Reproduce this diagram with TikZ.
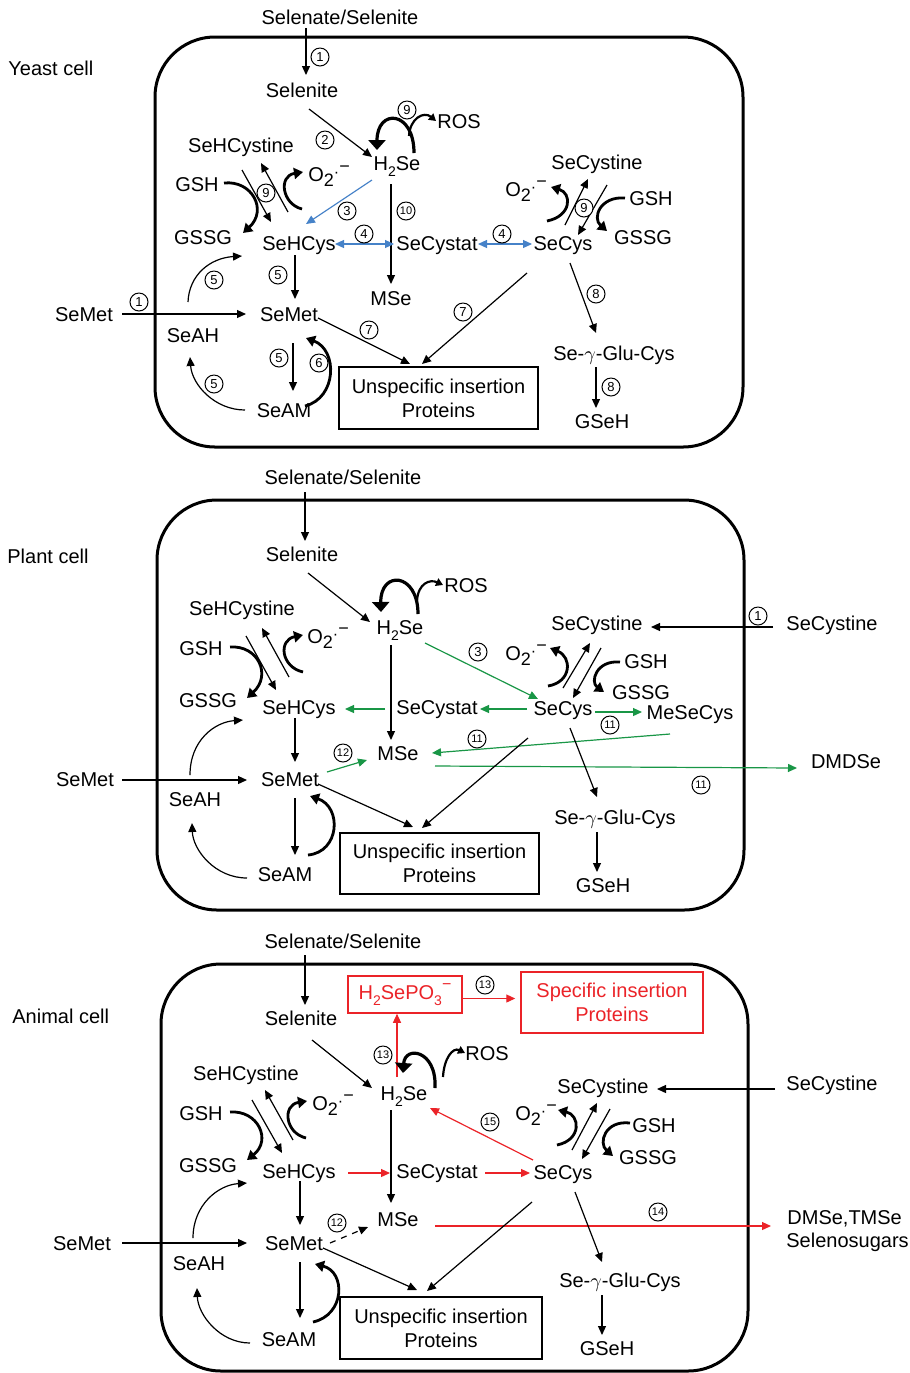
\documentclass[tikz,border=0pt]{standalone}
\usepackage{fontspec}
\setmainfont{Liberation Sans}
\usetikzlibrary{arrows.meta}
\definecolor{cblue}{RGB}{70,130,200}
\definecolor{cgreen}{RGB}{25,150,70}
\definecolor{cred}{RGB}{235,35,40}
\newcommand\Otwo{O\raisebox{-0.28em}{\fontsize{9}{9}\selectfont 2}\raisebox{0.2em}{\fontsize{8}{8}\selectfont ·}\raisebox{0.45em}{\fontsize{9}{9}\selectfont −}}
\newcommand\HtwoSe{H\raisebox{-0.3em}{\fontsize{7}{7}\selectfont 2}Se}
\newcommand\HSePO{H\raisebox{-0.3em}{\fontsize{7}{7}\selectfont 2}SePO\raisebox{-0.3em}{\fontsize{7}{7}\selectfont 3}\raisebox{0.5em}{\fontsize{8}{8}\selectfont −}}
\tikzset{
  t/.style={inner sep=0pt, text height=7.2pt, text depth=0pt, font=\fontsize{10}{12}\selectfont},
  tw/.style={t, anchor=west},
  num/.style={circle, draw, line width=0.5pt, inner sep=0pt, minimum size=9pt, font=\fontsize{6.5}{6.5}\selectfont},
  numw/.style={num, font=\fontsize{5.5}{5.5}\selectfont},
  ar/.style={line width=0.6pt, -{Triangle[length=4.5pt,width=4pt]}},
  dar/.style={line width=0.6pt, {Triangle[length=4.5pt,width=4pt]}-{Triangle[length=4.5pt,width=4pt]}},
  thk/.style={line width=1.4pt, -{Triangle[length=4.5pt,width=5.5pt]}},
  mid/.style={line width=1.1pt, -{Triangle[length=3.5pt,width=4pt]}},
  big/.style={line width=1.6pt, -{Triangle[length=5pt,width=8.5pt]}},
  cell/.style={draw, line width=1.5pt, rounded corners=30pt},
  pbox/.style={draw, line width=0.65pt, align=center, inner sep=0pt, font=\fontsize{10}{12}\selectfont},
}
\begin{document}
\begin{tikzpicture}[x=0.5pt,y=-0.5pt]
\useasboundingbox (0,0) rectangle (910,1373);

%%%%%%%%%%%%%%%%%%%% YEAST %%%%%%%%%%%%%%%%%%%%
\node[tw] (yc) at (8,68) {Yeast cell};
\draw[cell] (155,37) rectangle (743,447);
\node[t] (ss1) at (340,17) {Selenate/Selenite};
\node[t] (sel1) at (302,90) {Selenite};
\node[t] (h1) at (397,163) {\HtwoSe};
\node[t] (ros1) at (459,121) {ROS};
\node[t] (shc1) at (241,145) {SeHCystine};
\node[tw] (oa1) at (308,174) {\Otwo};
\node[t] (gsh1) at (197,184) {GSH};
\node[t] (gssg1) at (203,237) {GSSG};
\node[t] (shcys1) at (299,243) {SeHCys};
\node[t] (scst1) at (437,243) {SeCystat};
\node[t] (scys1) at (563,243) {SeCys};
\node[t] (sci1) at (597,162) {SeCystine};
\node[tw] (ob1) at (505,189) {\Otwo};
\node[t] (gshb1) at (651,198) {GSH};
\node[t] (gssgb1) at (643,237) {GSSG};
\node[t] (mse1) at (391,298) {MSe};
\node[t] (smo1) at (84,314) {SeMet};
\node[t] (sm1) at (289,314) {SeMet};
\node[t] (sah1) at (193,335) {SeAH};
\node[t] (sam1) at (284,410) {SeAM};
\node[pbox, minimum width=99.5pt, minimum height=31pt] (un1) at (438.5,398) {Unspecific insertion\\Proteins};
\node[t] (glu1) at (614,353) {Se-$\gamma$-Glu-Cys};
\node[t] (gs1) at (602,421) {GSeH};

\draw[ar] ([shift={(-34,11)}]ss1.center) -- ([shift={(4,-15)}]sel1.center);
\node[num] (n1a) at (320,57) {1};
\draw[ar] ([shift={(7,19)}]sel1.center) -- ([shift={(-25,-6)}]h1.center);
\node[num] (n1b) at (325,140) {2};
\draw[big] ([shift={(17,-10)}]h1.center) .. controls ([shift={(17,-53)}]h1.center) and ([shift={(-20,-55)}]h1.center) .. ([shift={(-20,-13)}]h1.center);
\draw[mid] ([shift={(12,-27)}]h1.center) .. controls ([shift={(13,-45)}]h1.center) and ([shift={(27,-52)}]h1.center) .. ([shift={(-23,0)}]ros1.center);
\node[num, fill=white] (n1c) at (407,110) {9};
\draw[ar] ([shift={(1,25)}]shc1.center) -- ([shift={(-28,-21)}]shcys1.center);
\draw[ar] ([shift={(-11,-31)}]shcys1.center) -- ([shift={(20,18)}]shc1.center);
\draw[thk] ([shift={(27,-1)}]gsh1.center) .. controls ([shift={(55,-4)}]gsh1.center) and ([shift={(71,26)}]gsh1.center) .. ([shift={(40,-4)}]gssg1.center);
\draw[thk] ([shift={(-6,35)}]oa1.west) .. controls ([shift={(-26,30)}]oa1.west) and ([shift={(-30,2)}]oa1.west) .. ([shift={(-5,-2)}]oa1.west);
\node[num, fill=white] (n1d) at (266,193) {9};
\draw[ar, cblue] ([shift={(-25,17)}]h1.center) -- ([shift={(7,-19)}]shcys1.center);
\node[num] (n1e) at (347,211) {3};
\draw[ar] ([shift={(-6,21)}]h1.center) -- ([shift={(0,-14)}]mse1.center);
\node[numw] (n1f) at (406,211) {10};
\draw[dar, cblue] ([shift={(36,1)}]shcys1.center) -- ([shift={(-43,1)}]scst1.center);
\node[num] (n1g) at (364,234) {4};
\draw[dar, cblue] ([shift={(41,1)}]scst1.center) -- ([shift={(-31,1)}]scys1.center);
\node[num] (n1h) at (502,234) {4};
\draw[ar] ([shift={(2,-18)}]scys1.center) -- ([shift={(-9,17)}]sci1.center);
\draw[ar] ([shift={(10,23)}]sci1.center) -- ([shift={(15,-8)}]scys1.center);
\draw[thk] ([shift={(42,32)}]ob1.west) .. controls ([shift={(67,27)}]ob1.west) and ([shift={(67,4)}]ob1.west) .. ([shift={(46,-2)}]ob1.west);
\draw[thk] ([shift={(-26,0)}]gshb1.center) .. controls ([shift={(-51,-2)}]gshb1.center) and ([shift={(-59,20)}]gshb1.center) .. ([shift={(-36,-6)}]gssgb1.center);
\node[num, fill=white] (n1i) at (584,208) {9};
\draw[ar] ([shift={(38,0)}]smo1.center) -- ([shift={(-43,0)}]sm1.center);
\node[num] (n1j) at (139,302) {1};
\draw[ar] ([shift={(-5,-33)}]sah1.center) .. controls ([shift={(-4,-60)}]sah1.center) and ([shift={(17,-77)}]sah1.center) .. ([shift={(-57,13)}]shcys1.center);
\node[num] (n1k) at (214,280) {5};
\draw[ar] ([shift={(-4,12)}]shcys1.center) -- ([shift={(6,-15)}]sm1.center);
\node[num] (n1l) at (278,275) {5};
\draw[ar] ([shift={(4,29)}]sm1.center) -- ([shift={(9,-19)}]sam1.center);
\node[num] (n1m) at (279,358) {5};
\draw[thk] ([shift={(21,-4)}]sam1.center) .. controls ([shift={(53,-12)}]sam1.center) and ([shift={(49,36)}]sm1.center) .. ([shift={(17,24)}]sm1.center);
\node[num] (n1n) at (319,363) {6};
\draw[ar] ([shift={(-39,0)}]sam1.center) .. controls ([shift={(-69,0)}]sam1.center) and ([shift={(-1,50)}]sah1.center) .. ([shift={(-3,22)}]sah1.center);
\node[num] (n1o) at (214,384) {5};
\draw[ar] ([shift={(29,4)}]sm1.center) -- ([shift={(-28.5,-34)}]un1.center);
\node[num] (n1p) at (369,330) {7};
\draw[ar] ([shift={(-36,30)}]scys1.center) -- ([shift={(-16.5,-34)}]un1.center);
\node[num] (n1q) at (463,312) {7};
\draw[ar] ([shift={(7,20)}]scys1.center) -- ([shift={(-18,-20)}]glu1.center);
\node[num] (n1r) at (596,294) {8};
\draw[ar] ([shift={(-18,14)}]glu1.center) -- ([shift={(-6,-13)}]gs1.center);
\node[num] (n1s) at (611,387) {8};

%%%%%%%%%%%%%%%%%%%% PLANT %%%%%%%%%%%%%%%%%%%%
\node[tw] (pc) at (7,556) {Plant cell};
\draw[cell] (157,500) rectangle (744,910);
\node[t] (ss2) at (343,477) {Selenate/Selenite};
\node[t] (sel2) at (302,554) {Selenite};
\node[t] (h2) at (400,627) {\HtwoSe};
\node[t] (ros2) at (466,585) {ROS};
\node[t] (shc2) at (242,608) {SeHCystine};
\node[tw] (oa2) at (307,636) {\Otwo};
\node[t] (gsh2) at (201,648) {GSH};
\node[t] (gssg2) at (208,700) {GSSG};
\node[t] (shcys2) at (299,707) {SeHCys};
\node[t] (scst2) at (437,707) {SeCystat};
\node[t] (scys2) at (563,708) {SeCys};
\node[t] (sci2) at (597,623) {SeCystine};
\node[t] (scio2) at (832,623) {SeCystine};
\node[tw] (ob2) at (505,653) {\Otwo};
\node[t] (gshb2) at (646,661) {GSH};
\node[t] (gssgb2) at (641,692) {GSSG};
\node[t] (mesc2) at (690,712) {MeSeCys};
\node[t] (mse2) at (398,753) {MSe};
\node[t] (dmd2) at (846,761) {DMDSe};
\node[t] (smo2) at (85,779) {SeMet};
\node[t] (sm2) at (290,779) {SeMet};
\node[t] (sah2) at (195,799) {SeAH};
\node[t] (sam2) at (285,874) {SeAM};
\node[pbox, minimum width=99.5pt, minimum height=30.5pt] (un2) at (439.5,863.5) {Unspecific insertion\\Proteins};
\node[t] (glu2) at (615,817) {Se-$\gamma$-Glu-Cys};
\node[t] (gs2) at (603,885) {GSeH};

\draw[ar] ([shift={(-38,15)}]ss2.center) -- ([shift={(3,-13)}]sel2.center);
\draw[ar] ([shift={(6,19)}]sel2.center) -- ([shift={(-30,-5)}]h2.center);
\draw[big] ([shift={(18,-13)}]h2.center) .. controls ([shift={(18,-55)}]h2.center) and ([shift={(-20,-57)}]h2.center) .. ([shift={(-19,-15)}]h2.center);
\draw[mid] ([shift={(17,-26)}]h2.center) .. controls ([shift={(18,-44)}]h2.center) and ([shift={(30,-48)}]h2.center) .. ([shift={(-23,0)}]ros2.center);
\draw[ar] ([shift={(4,28)}]shc2.center) -- ([shift={(-23,-17)}]shcys2.center);
\draw[ar] ([shift={(-10,-30)}]shcys2.center) -- ([shift={(20,20)}]shc2.center);
\draw[thk] ([shift={(29,-1)}]gsh2.center) .. controls ([shift={(57,-3)}]gsh2.center) and ([shift={(71,27)}]gsh2.center) .. ([shift={(39,-2)}]gssg2.center);
\draw[thk] ([shift={(-4,36)}]oa2.west) .. controls ([shift={(-26,31)}]oa2.west) and ([shift={(-29,4)}]oa2.west) .. ([shift={(-4,-1)}]oa2.west);
\draw[ar, cgreen] ([shift={(-52,2)}]scst2.center) -- ([shift={(46,2)}]shcys2.center);
\draw[ar, cgreen] ([shift={(-36,1)}]scys2.center) -- ([shift={(43,2)}]scst2.center);
\draw[ar, cgreen] ([shift={(25,16)}]h2.center) -- ([shift={(-25,-9)}]scys2.center);
\node[num] (n2a) at (478,652) {3};
\draw[ar] ([shift={(-9,18)}]h2.center) -- ([shift={(-7,-13)}]mse2.center);
\draw[ar] ([shift={(-59,4)}]scio2.center) -- ([shift={(54,4)}]sci2.center);
\node[num] (n2b) at (758,616) {1};
\draw[ar] ([shift={(0,-20)}]scys2.center) -- ([shift={(-7,20)}]sci2.center);
\draw[ar] ([shift={(4,25)}]sci2.center) -- ([shift={(10,-10)}]scys2.center);
\draw[thk] ([shift={(43,33)}]ob2.west) .. controls ([shift={(67,29)}]ob2.west) and ([shift={(67,4)}]ob2.west) .. ([shift={(45,-5)}]ob2.west);
\draw[thk] ([shift={(-26,1)}]gshb2.center) .. controls ([shift={(-50,-1)}]gshb2.center) and ([shift={(-56,21)}]gshb2.center) .. ([shift={(-37,0)}]gssgb2.center);
\draw[ar, cgreen] ([shift={(32,4)}]scys2.center) -- ([shift={(-48,0)}]mesc2.center);
\node[numw] (n2c) at (610,725) {11};
\draw[ar, cgreen] ([shift={(-20,22)}]mesc2.center) -- ([shift={(34,0)}]mse2.center);
\node[numw] (n2d) at (477,739) {11};
\draw[ar, cgreen] ([shift={(37,13)}]mse2.center) -- ([shift={(-49,7)}]dmd2.center);
\node[numw] (n2e) at (701,785) {11};
\draw[ar] ([shift={(37,1)}]smo2.center) -- ([shift={(-43,1)}]sm2.center);
\draw[ar] ([shift={(-5,-24)}]sah2.center) .. controls ([shift={(-5,-59)}]sah2.center) and ([shift={(20,-77)}]sah2.center) .. ([shift={(-56,13)}]shcys2.center);
\draw[ar] ([shift={(-4,11)}]shcys2.center) -- ([shift={(5,-17)}]sm2.center);
\draw[ar, cgreen] ([shift={(37,-7)}]sm2.center) -- ([shift={(-31,7)}]mse2.center);
\node[numw] (n2f) at (343,753) {12};
\draw[ar] ([shift={(5,19)}]sm2.center) -- ([shift={(10,-19)}]sam2.center);
\draw[thk] ([shift={(23,-19)}]sam2.center) .. controls ([shift={(55,-22)}]sam2.center) and ([shift={(52,28)}]sm2.center) .. ([shift={(20,17)}]sm2.center);
\draw[ar] ([shift={(-38,4)}]sam2.center) .. controls ([shift={(-70,4)}]sam2.center) and ([shift={(-2,51)}]sah2.center) .. ([shift={(-3,24)}]sah2.center);
\draw[ar] ([shift={(28,5)}]sm2.center) -- ([shift={(-26.5,-36.5)}]un2.center);
\draw[ar] ([shift={(-35,30)}]scys2.center) -- ([shift={(-17.5,-35.5)}]un2.center);
\draw[ar] ([shift={(7,20)}]scys2.center) -- ([shift={(-18,-20)}]glu2.center);
\draw[ar] ([shift={(-18,15)}]glu2.center) -- ([shift={(-6,-13)}]gs2.center);

%%%%%%%%%%%%%%%%%%%% ANIMAL %%%%%%%%%%%%%%%%%%%%
\node[tw] (ac) at (12,1016) {Animal cell};
\draw[cell] (161,964) rectangle (748,1371);
\node[t] (ss3) at (343,941) {Selenate/Selenite};
\node[t] (sel3) at (301,1018) {Selenite};
\node[draw=cred, text=cred, line width=0.75pt, minimum width=57pt, minimum height=18.5pt, inner sep=0pt, font=\fontsize{10}{12}\selectfont] (hp3) at (405,994.5) {\HSePO};
\node[pbox, draw=cred, text=cred, line width=0.75pt, minimum width=91pt, minimum height=30.5pt] (sp3) at (612,1002.5) {Specific insertion\\Proteins};
\node[t] (h3) at (404,1093) {\HtwoSe};
\node[t] (ros3) at (487,1053) {ROS};
\node[t] (shc3) at (246,1073) {SeHCystine};
\node[tw] (oa3) at (312,1103) {\Otwo};
\node[t] (gsh3) at (201,1113) {GSH};
\node[t] (gssg3) at (208,1165) {GSSG};
\node[t] (shcys3) at (299,1171) {SeHCys};
\node[t] (scst3) at (437,1171) {SeCystat};
\node[t] (scys3) at (563,1172) {SeCys};
\node[t] (sci3) at (603,1086) {SeCystine};
\node[t] (scio3) at (832,1083) {SeCystine};
\node[tw] (ob3) at (515,1113) {\Otwo};
\node[t] (gshb3) at (654,1125) {GSH};
\node[t] (gssgb3) at (648,1157) {GSSG};
\node[t] (mse3) at (398,1219) {MSe};
\node[tw] (dm3) at (787,1217) {DMSe,TMSe};
\node[tw] (sug3) at (786,1240) {Selenosugars};
\node[t] (smo3) at (82,1243) {SeMet};
\node[t] (sm3) at (294,1243) {SeMet};
\node[t] (sah3) at (199,1263) {SeAH};
\node[t] (sam3) at (289,1339) {SeAM};
\node[pbox, minimum width=101pt, minimum height=31pt] (un3) at (441,1328) {Unspecific insertion\\Proteins};
\node[t] (glu3) at (620,1280) {Se-$\gamma$-Glu-Cys};
\node[t] (gs3) at (607,1348) {GSeH};

\draw[ar] ([shift={(-38,14)}]ss3.center) -- ([shift={(4,-13)}]sel3.center);
\draw[ar] ([shift={(11,22)}]sel3.center) -- ([shift={(-32,-5)}]h3.center);
\draw[ar, cred] ([shift={(-7,-16)}]h3.center) -- ([shift={(-8,0)}]hp3.south);
\node[numw] (n3a) at (383,1055) {13};
\draw[ar, cred] ([shift={(0,4)}]hp3.east) -- ([shift={(-5,-4)}]sp3.west);
\node[numw] (n3b) at (485,985) {13};
\draw[big] ([shift={(31,-5)}]h3.center) .. controls ([shift={(33,-43)}]h3.center) and ([shift={(1,-48)}]h3.center) .. ([shift={(-1,-20)}]h3.center);
\draw[mid] ([shift={(39,-16)}]h3.center) .. controls ([shift={(40,-35)}]h3.center) and ([shift={(49,-46)}]h3.center) .. ([shift={(-22,0)}]ros3.center);
\draw[ar] ([shift={(6,27)}]shc3.center) -- ([shift={(-17,-18)}]shcys3.center);
\draw[ar] ([shift={(-6,-31)}]shcys3.center) -- ([shift={(19,17)}]shc3.center);
\draw[thk] ([shift={(29,-1)}]gsh3.center) .. controls ([shift={(57,-3)}]gsh3.center) and ([shift={(71,27)}]gsh3.center) .. ([shift={(39,-5)}]gssg3.center);
\draw[thk] ([shift={(-6,35)}]oa3.west) .. controls ([shift={(-27,30)}]oa3.west) and ([shift={(-30,2)}]oa3.west) .. ([shift={(-5,-2)}]oa3.west);
\draw[ar, cred] ([shift={(49,2)}]shcys3.center) -- ([shift={(-47,2)}]scst3.center);
\draw[ar, cred] ([shift={(48,2)}]scst3.center) -- ([shift={(-33,1)}]scys3.center);
\draw[ar, cred] ([shift={(-30,-12)}]scys3.center) -- ([shift={(26,15)}]h3.center);
\node[numw] (n3c) at (490,1122) {15};
\draw[ar] ([shift={(-13,17)}]h3.center) -- ([shift={(-7,-16)}]mse3.center);
\draw[ar] ([shift={(-57,6)}]scio3.center) -- ([shift={(54,3)}]sci3.center);
\draw[ar] ([shift={(9,-22)}]scys3.center) -- ([shift={(-6,17)}]sci3.center);
\draw[ar] ([shift={(7,23)}]sci3.center) -- ([shift={(19,-13)}]scys3.center);
\draw[thk] ([shift={(42,32)}]ob3.west) .. controls ([shift={(67,27)}]ob3.west) and ([shift={(65,2)}]ob3.west) .. ([shift={(43,-3)}]ob3.west);
\draw[thk] ([shift={(-24,-2)}]gshb3.center) .. controls ([shift={(-49,-5)}]gshb3.center) and ([shift={(-56,18)}]gshb3.center) .. ([shift={(-35,-1)}]gssgb3.center);
\draw[ar, cred] ([shift={(37,7)}]mse3.center) -- ([shift={(-16,9)}]dm3.west);
\node[numw] (n3d) at (658,1212) {14};
\draw[ar] ([shift={(40,0)}]smo3.center) -- ([shift={(-47,0)}]sm3.center);
\draw[ar] ([shift={(-6,-25)}]sah3.center) .. controls ([shift={(-6,-58)}]sah3.center) and ([shift={(19,-78)}]sah3.center) .. ([shift={(-52,12)}]shcys3.center);
\draw[ar] ([shift={(1,10)}]shcys3.center) -- ([shift={(6,-18)}]sm3.center);
\draw[ar, dashed] ([shift={(36,0)}]sm3.center) -- ([shift={(-30,8)}]mse3.center);
\node[numw] (n3e) at (337,1223) {12};
\draw[ar] ([shift={(6,19)}]sm3.center) -- ([shift={(11,-21)}]sam3.center);
\draw[thk] ([shift={(24,-17)}]sam3.center) .. controls ([shift={(56,-24)}]sam3.center) and ([shift={(52,29)}]sm3.center) .. ([shift={(21,21)}]sm3.center);
\draw[ar] ([shift={(-39,4)}]sam3.center) .. controls ([shift={(-69,4)}]sam3.center) and ([shift={(-1,52)}]sah3.center) .. ([shift={(-2,25)}]sah3.center);
\draw[ar] ([shift={(29,5)}]sm3.center) -- ([shift={(-24,-38)}]un3.center);
\draw[ar] ([shift={(-31,30)}]scys3.center) -- ([shift={(-14,-37)}]un3.center);
\draw[ar] ([shift={(12,20)}]scys3.center) -- ([shift={(-18,-18)}]glu3.center);
\draw[ar] ([shift={(-18,15)}]glu3.center) -- ([shift={(-5,-13)}]gs3.center);
\end{tikzpicture}
\end{document}
